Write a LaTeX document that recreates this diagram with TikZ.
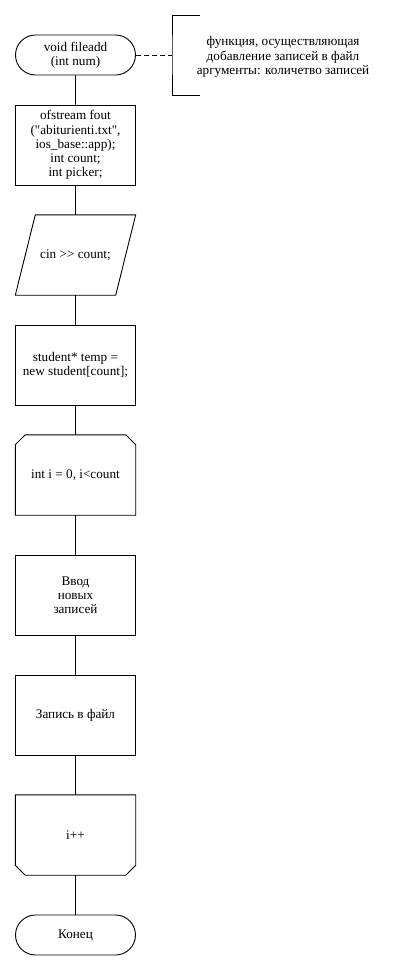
\documentclass[tikz,border=0pt]{standalone}
\usepackage{fontspec}
\setmainfont{Liberation Serif}
\usetikzlibrary{shapes.misc,calc}
\begin{document}
\begin{tikzpicture}[x=1pt,y=-1pt,
  every node/.style={font=\fontsize{13.2}{14.2}\selectfont, align=center, inner sep=0pt},
  ln/.style={line width=0.9pt, draw=black},
  term/.style={ln, rounded rectangle, minimum width=120pt, minimum height=40pt},
  proc/.style={ln, rectangle, minimum width=120pt, minimum height=80pt},
  ghost/.style={rectangle, minimum width=120pt, minimum height=80pt},
  conn/.style={ln}
]
\useasboundingbox (0,0) rectangle (413,970);
\fill[white] (0,0) rectangle (413,970);

% nodes
\node[term] (start) at (75.5,55) {void fileadd\\(int num)};
\node[proc] (init) at (75.5,145) {ofstream fout\\(\textquotedbl abiturienti.txt\textquotedbl,\\ios\_base::app);\\int count;\\int picker;};
\node[ghost] (in) at (75.5,255) {cin \mbox{>}\mbox{>} count;};
\node[proc] (alloc) at (75.5,365) {student* temp =\\new student[count];};
\node[ghost] (lb) at (75.5,475) {int i = 0, i<count};
\node[proc] (inp) at (75.5,595) {Ввод\\новых\\записей};
\node[proc] (wr) at (75.5,715) {Запись в файл};
\node[ghost] (le) at (75.5,835) {i++};
\node[term] (end) at (75.5,935) {Конец};

% comment
\node (cmt) at (283,57) {функция, осуществляющая\\добавление записей в файл\\аргументы: количетво записей};
\coordinate (bt) at (200,15);
\coordinate (bb) at (200,95);
\coordinate (bm) at (172,55);

% shapes drawn by hand
\draw[ln] ($(in.north west)+(20,0)$) -- (in.north east) -- ($(in.south east)-(20,0)$) -- (in.south west) -- cycle;
\draw[ln] ($(lb.north west)+(0,10)$) -- ($(lb.north west)+(10,0)$) -- ($(lb.north east)-(10,0)$) -- ($(lb.north east)+(0,10)$) -- (lb.south east) -- (lb.south west) -- cycle;
\draw[ln] (le.north west) -- (le.north east) -- ($(le.south east)-(0,10)$) -- ($(le.south east)-(10,0)$) -- ($(le.south west)+(10,0)$) -- ($(le.south west)-(0,10)$) -- cycle;

% connectors
\draw[conn] (start) -- (init);
\draw[conn] (init) -- (in);
\draw[conn] (in) -- (alloc);
\draw[conn] (alloc) -- (lb);
\draw[conn] (lb) -- (inp);
\draw[conn] (inp) -- (wr);
\draw[conn] (wr) -- (le);
\draw[conn] (le) -- (end);

\draw[ln, dash pattern=on 5pt off 3pt] (start.east) -- (bm);
\draw[ln] (bt) -| (bm) |- (bb);
\end{tikzpicture}
\end{document}
